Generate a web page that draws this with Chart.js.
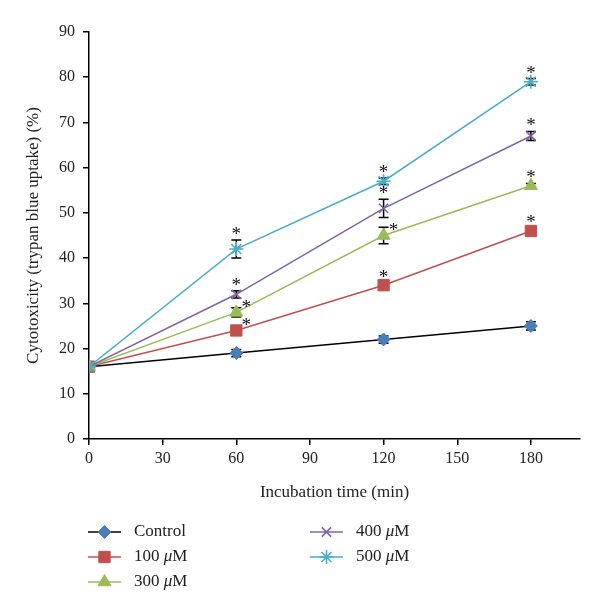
<!DOCTYPE html>
<html>
<head>
<meta charset="utf-8">
<style>
  html, body { margin: 0; padding: 0; background: #fff; }
  #wrap { width: 600px; height: 614px; }
</style>
<script src="https://cdn.jsdelivr.net/npm/chart.js@4.4.0/dist/chart.umd.min.js"></script>
</head>
<body>
<div id="wrap"><canvas id="chart" width="600" height="614"></canvas></div>
<script>
// incubation times (min)
const times = [0, 60, 120, 180];
const xTicks = [0, 30, 60, 90, 120, 150, 180];

// cytotoxicity (%) per treatment
const control = [16, 19, 22, 25];
const uM100 = [16, 24, 34, 46];
const uM300 = [16, 28, 45, 56];
const uM400 = [16, 32, 51, 67];
const uM500 = [16, 42, 57, 79];

// error (+/-) per point
const controlErr = [0, 0.8, 0.8, 0.9];
const uM100Err = [0, 0.6, 0.6, 0.6];
const uM300Err = [0, 1.0, 1.8, 0.5];
const uM400Err = [0, 0.8, 2.0, 1.0];
const uM500Err = [0, 2.0, 0.7, 0.7];

// significance markers (*)
const controlSig = [false, false, false, false];
const uM100Sig = [false, true, true, true];
const uM300Sig = [false, true, true, true];
const uM400Sig = [false, true, true, true];
const uM500Sig = [false, true, true, true];

const FONT = '"Liberation Serif", "DejaVu Serif", serif';

const series = [
    { label: 'Control', unit: false, data: control, err: controlErr, sig: controlSig,
      line: '#000000', color: '#4a7ebb', point: 'rectRot', radius: 6.5, starSide: [] },
    { label: '100', unit: true, data: uM100, err: uM100Err, sig: uM100Sig,
      line: '#c0504d', color: '#c0504d', point: 'rect', radius: 8, starSide: ['', 'right', 'top', 'top'] },
    { label: '300', unit: true, data: uM300, err: uM300Err, sig: uM300Sig,
      line: '#9bbb59', color: '#9bbb59', point: 'triangle', radius: 7.5, starSide: ['', 'right', 'right', 'top'] },
    { label: '400', unit: true, data: uM400, err: uM400Err, sig: uM400Sig,
      line: '#8064a2', color: '#8064a2', point: 'crossRot', radius: 6.5, starSide: ['', 'top', 'top', 'top'] },
    { label: '500', unit: true, data: uM500, err: uM500Err, sig: uM500Sig,
      line: '#4bacc6', color: '#4bacc6', point: 'star', radius: 7, starSide: ['', 'top', 'top', 'top'] }
];

function drawMarker(ctx, s, x, y) {
    ctx.save();
    ctx.fillStyle = s.color;
    ctx.strokeStyle = s.color;
    ctx.lineWidth = (s.point === 'crossRot' || s.point === 'star') ? 1.6 : 1;
    Chart.helpers.drawPoint(ctx, { pointStyle: s.point, radius: s.radius, rotation: 0, borderWidth: ctx.lineWidth }, x, y);
    ctx.restore();
}

const errorBars = {
    id: 'errorBars',
    beforeDatasetsDraw(chart) {
        const ctx = chart.ctx;
        const xs = chart.scales.x, ys = chart.scales.y;
        ctx.save();
        ctx.strokeStyle = '#000';
        ctx.lineWidth = 1.5;
        series.forEach(s => {
            s.data.forEach((v, j) => {
                const e = s.err[j];
                if (!e) return;
                const px = xs.getPixelForValue(times[j]);
                const t = ys.getPixelForValue(v + e);
                const b = ys.getPixelForValue(v - e);
                ctx.beginPath();
                ctx.moveTo(px, t); ctx.lineTo(px, b);
                ctx.moveTo(px - 5, t); ctx.lineTo(px + 5, t);
                ctx.moveTo(px - 5, b); ctx.lineTo(px + 5, b);
                ctx.stroke();
            });
        });
        ctx.restore();
    },
    afterDatasetsDraw(chart) {
        const ctx = chart.ctx;
        const xs = chart.scales.x, ys = chart.scales.y;
        ctx.save();
        ctx.fillStyle = '#111';
        ctx.font = '19px ' + FONT;
        ctx.textAlign = 'center';
        ctx.textBaseline = 'middle';
        series.forEach(s => {
            s.data.forEach((v, j) => {
                if (!s.sig[j]) return;
                const px = xs.getPixelForValue(times[j]);
                if (s.starSide[j] === 'right') {
                    ctx.fillText('*', px + 10, ys.getPixelForValue(v) - 4);
                } else {
                    ctx.fillText('*', px, ys.getPixelForValue(v + s.err[j]) - 5);
                }
            });
        });
        ctx.restore();
    }
};

const legendBox = {
    id: 'legendBox',
    afterDraw(chart) {
        const ctx = chart.ctx;
        const cols = [{ x: 88, y: 532 }, { x: 310, y: 532 }];
        const rowGap = 25;
        ctx.save();
        series.forEach((s, i) => {
            const col = i < 3 ? cols[0] : cols[1];
            const y = col.y + (i < 3 ? i : i - 3) * rowGap;
            ctx.strokeStyle = s.line;
            ctx.lineWidth = 1.5;
            ctx.beginPath();
            ctx.moveTo(col.x, y); ctx.lineTo(col.x + 33, y);
            ctx.stroke();
            drawMarker(ctx, s, col.x + 16.5, y);
            ctx.fillStyle = '#222';
            ctx.textBaseline = 'middle';
            ctx.textAlign = 'left';
            let tx = col.x + 46;
            ctx.font = '17px ' + FONT;
            if (!s.unit) {
                ctx.fillText(s.label, tx, y);
            } else {
                const a = s.label + ' ';
                ctx.fillText(a, tx, y);
                tx += ctx.measureText(a).width;
                ctx.font = 'italic 17px ' + FONT;
                ctx.fillText('μ', tx, y);
                tx += ctx.measureText('μ').width;
                ctx.font = '17px ' + FONT;
                ctx.fillText('M', tx, y);
            }
        });
        ctx.restore();
    }
};

const datasets = series.map((s, i) => ({
    label: s.unit ? s.label + ' μM' : s.label,
    data: s.data.map((v, j) => ({ x: times[j], y: v })),
    order: series.length - i,
    borderColor: s.line,
    borderWidth: 1.5,
    backgroundColor: s.color,
    pointBackgroundColor: s.color,
    pointBorderColor: s.color,
    pointBorderWidth: (s.point === 'crossRot' || s.point === 'star') ? 1.6 : 1,
    pointStyle: s.point,
    pointRadius: s.radius,
    tension: 0
}));

new Chart(document.getElementById('chart'), {
    type: 'line',
    data: { datasets },
    plugins: [errorBars, legendBox],
    options: {
        responsive: false,
        animation: false,
        layout: { padding: { left: 0, top: 32, right: 20, bottom: 111 } },
        plugins: { legend: { display: false }, tooltip: { enabled: false } },
        scales: {
            x: {
                type: 'linear',
                min: 0,
                max: 200,
                afterFit: scale => { scale.height = 64; },
                afterBuildTicks: scale => { scale.ticks = xTicks.map(v => ({ value: v })); },
                ticks: { color: '#222', font: { family: FONT, size: 16 }, padding: 4 },
                grid: { drawOnChartArea: false, drawTicks: true, tickLength: 6, color: '#000', lineWidth: 1.5 },
                border: { color: '#000', width: 1.5 },
                title: { display: true, text: 'Incubation time (min)', color: '#222', font: { family: FONT, size: 17 }, padding: 0 }
            },
            y: {
                min: 0,
                max: 90,
                afterFit: scale => { scale.width = 89; },
                ticks: { stepSize: 10, color: '#222', font: { family: FONT, size: 16 }, padding: 8 },
                grid: { drawOnChartArea: false, drawTicks: true, tickLength: 6, color: '#000', lineWidth: 1.5 },
                border: { color: '#000', width: 1.5 },
                title: { display: true, text: 'Cytotoxicity (trypan blue uptake) (%)', color: '#222', font: { family: FONT, size: 17 }, padding: { top: 23, bottom: 0 } }
            }
        }
    }
});
</script>
</body>
</html>
